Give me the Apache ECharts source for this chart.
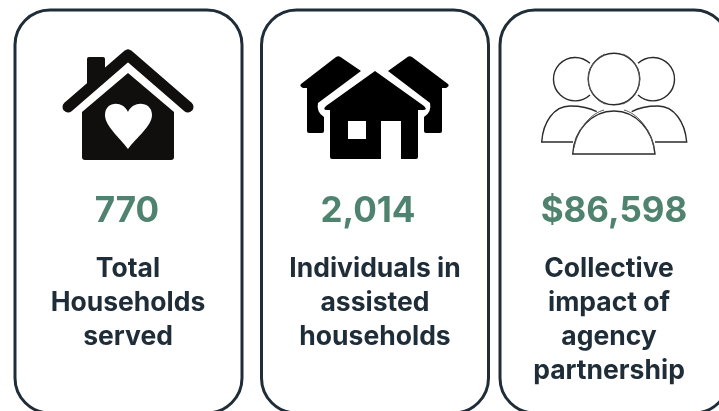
<!DOCTYPE html>
<html lang="en">
<head>
    <meta charset="UTF-8">
    <title>Agency impact</title>
    <style>
        html, body {
            margin: 0;
            width: 100%;
            height: 100%;
            background: #ffffff;
            overflow: hidden;
        }

        #container {
            width: 719px;
            height: 411px;
        }
    </style>
</head>
<body>
<div id="container"></div>
<script src="https://cdn.jsdelivr.net/npm/echarts@6/dist/echarts.min.js"></script>
<script>
    var values = ['770', '2,014', '$86,598'];
    var labels = [
        ['Total', 'Households', 'served'],
        ['Individuals in', 'assisted', 'households'],
        ['Collective', 'impact of', 'agency', 'partnership']
    ];

    var navy = '#1f2d38', green = '#4f8370', black = '#100f0d';
    var elements = [];

    // cards run past the bottom and right edge of the page
    function card(x, w) {
        elements.push({
            type: 'rect',
            shape: {x: x, y: 10, width: w, height: 403, r: 35},
            style: {fill: 'none', stroke: navy, lineWidth: 3}
        });
    }

    function path(d, style) {
        elements.push({type: 'path', shape: {pathData: d}, style: style});
    }

    function text(str, x, y, size, weight, color) {
        elements.push({
            type: 'text',
            x: x,
            y: y,
            style: {
                text: str,
                fill: color,
                font: weight + ' ' + size + 'px Inter',
                textAlign: 'center',
                verticalAlign: 'middle'
            }
        });
    }

    card(15, 227);
    card(261.5, 227);
    card(500, 229);

    // house with heart
    path('M68 107L128 55L188 107', {fill: 'none', stroke: black, lineWidth: 11, lineCap: 'round', lineJoin: 'round'});
    path('M87 85L87 59Q87 57 89 57L103 57Q105 57 105 59L105 70Z', {fill: black});
    path('M128 73L174 112L174 157Q174 160 171 160L85 160Q82 160 82 157L82 112Z', {fill: black});
    path('M128 149C120 138 105 126 105 115C105 101 123 100 128 112C133 100 152 101 152 115C152 126 136 138 128 149Z', {fill: '#ffffff'});

    // three houses
    path('M339 56L361 71L318 103Q316 112 324 117L324 131Q324 133 322 133L309 133Q307 133 307 131L307 88L303 88Q299 86 301 84L336 57Q339 55 342 58Z', {fill: '#000000'});
    path('M409 56L388 71L430 103Q432 112 424 117L424 131Q424 133 426 133L440 133Q442 133 442 131L442 88L446 88Q450 86 448 84L412 57Q409 55 406 58Z', {fill: '#000000'});
    path('M375 71L424 106Q428 110 423 110L418 110L418 157Q418 159 416 159L401 159L401 121L381 121L381 159L332 159Q330 159 330 157L330 110L327 110Q322 110 326 106Z', {fill: '#000000'});
    path('M348 121L366 121L366 139L348 139Z', {fill: '#ffffff'});

    // three people outline
    var thin = {fill: 'none', stroke: '#2b2b2b', lineWidth: 1.4};
    var faint = {fill: 'none', stroke: '#555555', lineWidth: 1};
    path('M590 63.3A21.7 21.7 0 1 0 590 95', thin);
    path('M638 63.3A21.7 21.7 0 1 1 638 95', thin);
    path('M614 53.3A25.7 25.7 0 1 1 613.9 53.3Z', thin);
    path('M605 54A27 27 0 0 0 605 104', faint);
    path('M623 54A27 27 0 0 1 623 104', faint);
    path('M573 142L541.7 142C543 122 554 106 570 106C579 106 590 108 596.7 111.7', thin);
    path('M655 142L686.7 142C685 122 674 106 658 106C649 106 638 108 631.7 111.7', thin);
    path('M572.7 154C574 130 592 111 614 111C636 111 653 130 655 154Z', thin);
    path('M574 148C578 127 592 113 604 110', faint);
    path('M654 148C650 127 636 113 624 110', faint);

    // big numbers and captions
    var valueX = [127, 368, 614];
    var labelX = [128, 375, 609];
    for (var i = 0; i < values.length; i++) {
        text(values[i], valueX[i], 211, 35, 700, green);
        for (var j = 0; j < labels[i].length; j++) {
            text(labels[i][j], labelX[i], 269 + j * 34, 26.5, 700, navy);
        }
    }

    var myCharts = echarts.init(document.getElementById('container'));
    myCharts.setOption({
        animation: false,
        series: [{
            type: 'custom',
            coordinateSystem: 'none',
            silent: true,
            data: [0],
            renderItem: function () {
                return {type: 'group', children: elements};
            }
        }]
    });
</script>
</body>
</html>
